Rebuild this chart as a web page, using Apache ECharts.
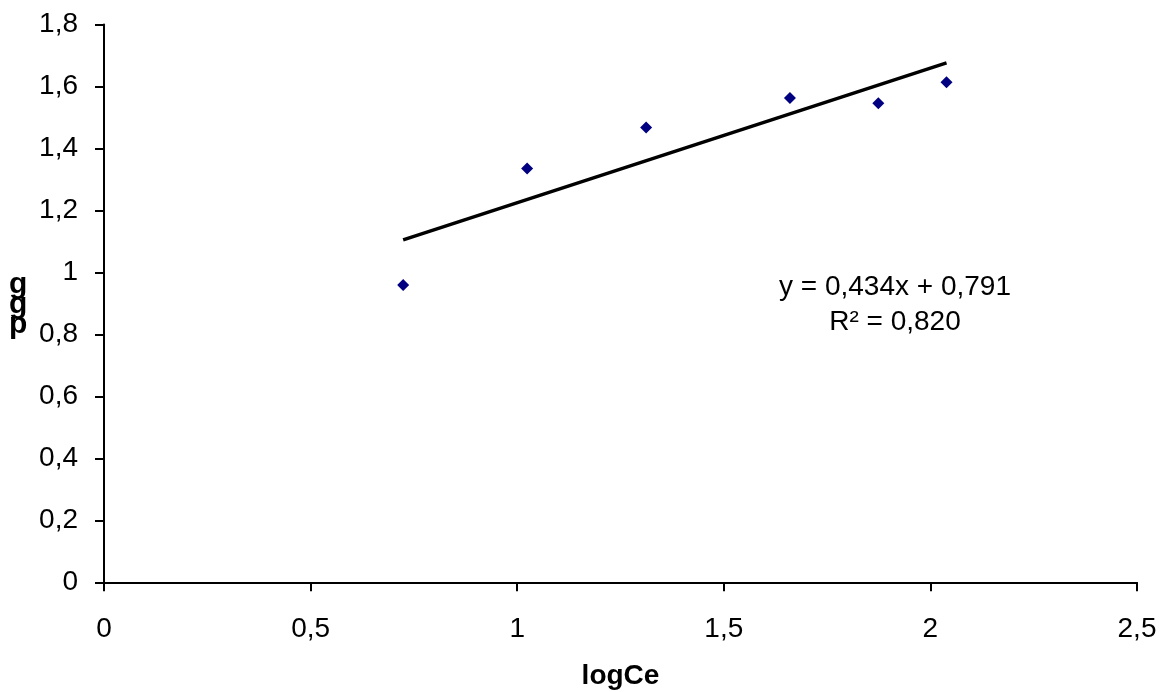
<!DOCTYPE html>
<html>
<head>
<meta charset="utf-8">
<script src="https://cdn.jsdelivr.net/npm/echarts@6/dist/echarts.min.js"></script>
<style>html,body{margin:0;padding:0;background:#fff}#c{width:1164px;height:692px}</style>
</head>
<body>
<div id="c"></div>
<script>
const xValues = [0.724, 1.024, 1.312, 1.660, 1.874, 2.039];
const yValues = [0.959, 1.335, 1.468, 1.563, 1.546, 1.614];
const slope = 0.434;
const intercept = 0.791;
const equationLines = ['y = 0,434x + 0,791', 'R² = 0,820'];
const xAxisTitle = 'logCe';
const yAxisTitle = 'g\ng\np';

const pts = xValues.map((x, i) => [x, yValues[i]]);
const xMin = Math.min(...xValues), xMax = Math.max(...xValues);
const trend = [[xMin, slope * xMin + intercept], [xMax, slope * xMax + intercept]];
const fmt = v => String(+v.toFixed(1)).replace('.', ',');
const font = '"Liberation Sans", Arial, sans-serif';

const chart = echarts.init(document.getElementById('c'));
chart.setOption({
  animation: false,
  backgroundColor: '#fff',
  grid: { left: 104, right: 27, top: 24.5, bottom: 109.7, containLabel: false, outerBoundsMode: 'none' },
  xAxis: {
    type: 'value', min: 0, max: 2.5, interval: 0.5,
    axisLine: { show: true, onZero: false, lineStyle: { color: '#000', width: 2 } },
    axisTick: { show: true, length: 9, lineStyle: { color: '#000', width: 2 } },
    splitLine: { show: false },
    axisLabel: { color: '#000', fontSize: 28, fontFamily: font, margin: 33, formatter: fmt },
    name: xAxisTitle, nameLocation: 'middle', nameGap: 80,
    nameTextStyle: { color: '#000', fontSize: 28, fontWeight: 'bold', fontFamily: font }
  },
  yAxis: {
    type: 'value', min: 0, max: 1.8, interval: 0.2,
    axisLine: { show: true, onZero: false, lineStyle: { color: '#000', width: 2 } },
    axisTick: { show: true, length: 9, lineStyle: { color: '#000', width: 2 } },
    splitLine: { show: false },
    axisLabel: { color: '#000', fontSize: 28, fontFamily: font, margin: 26, formatter: fmt }
  },
  graphic: [
    { type: 'text', x: 9, y: 275, style: { text: yAxisTitle, fill: '#000', font: 'bold 30px ' + font, lineHeight: 20 } },
    { type: 'text', x: 895, y: 270, style: { text: equationLines.join('\n'), fill: '#000', font: '28px ' + font, lineHeight: 35, align: 'center' } }
  ],
  series: [
    { type: 'line', data: trend, symbol: 'none', lineStyle: { color: '#000', width: 3.5 }, z: 2 },
    { type: 'scatter', data: pts, symbol: 'diamond', symbolSize: 12, itemStyle: { color: '#000080', opacity: 1 }, z: 3 }
  ]
});
</script>
</body>
</html>
